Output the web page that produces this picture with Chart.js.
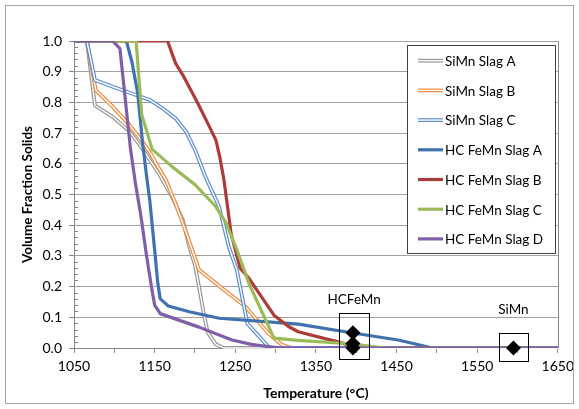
<!DOCTYPE html>
<html>
<head>
<meta charset="utf-8">
<script src="https://cdn.jsdelivr.net/npm/chart.js@4.4.0/dist/chart.umd.min.js"></script>
<style>
html, body { margin: 0; padding: 0; background: #fff; }
#contenedor { width: 579px; height: 409px; }
</style>
</head>
<body>
<div id="contenedor"><canvas id="graficaSolidos" width="579" height="409"></canvas></div>
<script>
// Datos (temperatura en °C, fraccion de solidos)
const tempSiMnA = [1050, 1066, 1076, 1098, 1119, 1133, 1156, 1172, 1185, 1193, 1200, 1205, 1211, 1216, 1226, 1236, 1650];
const fracSiMnA = [1, 1, 0.79, 0.753, 0.705, 0.656, 0.565, 0.49, 0.417, 0.33, 0.27, 0.2, 0.11, 0.05, 0.012, 0, 0];

const tempSiMnB = [1050, 1066, 1077, 1098, 1119, 1135, 1146, 1152, 1164, 1176, 1190, 1205, 1234, 1263, 1291, 1308, 1320, 1650];
const fracSiMnB = [1, 1, 0.84, 0.786, 0.726, 0.672, 0.63, 0.6, 0.547, 0.47, 0.37, 0.255, 0.194, 0.134, 0.048, 0.01, 0, 0];

const tempSiMnC = [1050, 1066, 1076, 1098, 1127, 1144, 1160, 1176, 1189, 1201, 1213, 1230, 1242, 1252, 1265, 1291, 1300, 1650];
const fracSiMnC = [1, 1, 0.873, 0.851, 0.824, 0.808, 0.78, 0.748, 0.705, 0.64, 0.558, 0.46, 0.33, 0.254, 0.08, 0.004, 0, 0];

const tempHCA = [1050, 1115, 1122, 1129, 1135, 1140, 1144, 1150, 1154, 1157, 1167, 1193, 1230, 1328, 1396, 1452, 1495, 1650];
const fracHCA = [1, 1, 0.93, 0.83, 0.67, 0.56, 0.48, 0.32, 0.21, 0.16, 0.137, 0.118, 0.097, 0.078, 0.049, 0.026, 0, 0];

const tempHCB = [1050, 1166, 1176, 1185, 1205, 1217, 1226, 1231, 1236, 1245, 1256, 1267, 1298, 1316, 1328, 1365, 1378, 1396, 1410, 1650];
const fracHCB = [1, 1, 0.927, 0.889, 0.79, 0.726, 0.677, 0.62, 0.547, 0.37, 0.26, 0.227, 0.107, 0.07, 0.053, 0.028, 0.02, 0.004, 0, 0];

const tempHCC = [1050, 1127, 1134, 1147, 1172, 1201, 1226, 1238, 1252, 1267, 1298, 1328, 1396, 1435, 1650];
const fracHCC = [1, 1, 0.76, 0.647, 0.59, 0.53, 0.46, 0.41, 0.32, 0.21, 0.032, 0.025, 0.013, 0, 0];

const tempHCD = [1050, 1098, 1107, 1120, 1126, 1133, 1140, 1146, 1150, 1157, 1205, 1246, 1270, 1295, 1310, 1650];
const fracHCD = [1, 1, 0.975, 0.65, 0.54, 0.43, 0.3, 0.2, 0.14, 0.112, 0.068, 0.026, 0.012, 0.003, 0, 0];

// Puntos medidos (rombos negros)
const tempMarcas = [1396, 1396, 1396, 1595];
const fracMarcas = [0.05, 0.015, 0, 0];

// Recuadros y etiquetas de las marcas
const nombresCajas = ["HCFeMn", "SiMn"];
const cajaTempMin = [1379, 1577];
const cajaTempMax = [1416, 1613];
const cajaFracMin = [-0.036, -0.042];
const cajaFracMax = [0.114, 0.049];
const etiquetaFrac = [0.156, 0.124];

const nombresSeries = ["SiMn Slag A", "SiMn Slag B", "SiMn Slag C", "HC FeMn Slag A", "HC FeMn Slag B", "HC FeMn Slag C", "HC FeMn Slag D"];

const FUENTE = "Lato, 'Open Sans', sans-serif";

function puntos(temps, fracs) {
    return temps.map((t, i) => ({ x: t, y: fracs[i] }));
}

function generarDataset(label, temps, fracs, color, hueco, orden) {
    return {
        label,
        data: puntos(temps, fracs),
        borderColor: color,
        backgroundColor: color,
        borderWidth: hueco ? 3.8 : 3.2,
        borderJoinStyle: "round",
        pointRadius: 0,
        tension: 0,
        hueco,
        order: orden
    };
}

// Linea doble (blanca por dentro) para las series SiMn
const lineaHueca = {
    id: "lineaHueca",
    afterDatasetDraw(chart, args) {
        const ds = chart.data.datasets[args.index];
        if (!ds.hueco) return;
        const ctx = chart.ctx;
        const area = chart.chartArea;
        ctx.save();
        ctx.beginPath();
        ctx.rect(area.left, area.top - 3, area.right - area.left, area.bottom - area.top + 6);
        ctx.clip();
        ctx.beginPath();
        args.meta.data.forEach((p, i) => i ? ctx.lineTo(p.x, p.y) : ctx.moveTo(p.x, p.y));
        ctx.strokeStyle = "#fff";
        ctx.lineWidth = 1.4;
        ctx.lineJoin = "round";
        ctx.stroke();
        ctx.restore();
    }
};

const extras = {
    id: "extras",
    afterDatasetsDraw(chart) {
        const ctx = chart.ctx;
        const x = chart.scales.x;
        const y = chart.scales.y;
        const area = chart.chartArea;
        ctx.save();

        // borde derecho del area
        ctx.strokeStyle = "#868686";
        ctx.lineWidth = 1;
        ctx.beginPath();
        ctx.moveTo(Math.round(area.right) + 0.5, area.top);
        ctx.lineTo(Math.round(area.right) + 0.5, area.bottom);
        ctx.stroke();

        // marcas menores del eje Y
        for (let v = 0.02; v < 1; v += 0.02) {
            if (Math.abs(v * 10 - Math.round(v * 10)) < 0.001) continue;
            const py = Math.round(y.getPixelForValue(v)) + 0.5;
            ctx.beginPath();
            ctx.moveTo(area.left, py);
            ctx.lineTo(area.left + 4, py);
            ctx.stroke();
        }

        // recuadros y etiquetas
        ctx.strokeStyle = "#000";
        ctx.fillStyle = "#000";
        ctx.font = "13.5px " + FUENTE;
        ctx.textAlign = "center";
        ctx.textBaseline = "middle";
        nombresCajas.forEach((nombre, i) => {
            const x0 = Math.round(x.getPixelForValue(cajaTempMin[i])) + 0.5;
            const x1 = Math.round(x.getPixelForValue(cajaTempMax[i])) + 0.5;
            const y0 = Math.round(y.getPixelForValue(cajaFracMax[i])) + 0.5;
            const y1 = Math.round(y.getPixelForValue(cajaFracMin[i])) + 0.5;
            ctx.strokeRect(x0, y0, x1 - x0, y1 - y0);
            const cx = x.getPixelForValue((cajaTempMin[i] + cajaTempMax[i]) / 2);
            ctx.fillText(nombre, cx, y.getPixelForValue(etiquetaFrac[i]));
        });
        ctx.restore();
    },
    afterDraw(chart) {
        const ctx = chart.ctx;
        ctx.save();
        // borde exterior
        ctx.strokeStyle = "#a6a6a6";
        ctx.lineWidth = 1;
        ctx.strokeRect(5.5, 5.5, 568, 398);

        // leyenda
        ctx.fillStyle = "#fff";
        ctx.fillRect(407.5, 45.5, 148, 208);
        ctx.strokeStyle = "#404040";
        ctx.strokeRect(407.5, 45.5, 148, 208);
        ctx.font = "13.5px " + FUENTE;
        ctx.textAlign = "left";
        ctx.textBaseline = "middle";
        nombresSeries.forEach((nombre, i) => {
            const ds = chart.data.datasets[i];
            const py = 60.7 + i * 29.7;
            ctx.beginPath();
            ctx.moveTo(418, py);
            ctx.lineTo(443, py);
            ctx.strokeStyle = ds.borderColor;
            ctx.lineWidth = ds.borderWidth;
            ctx.stroke();
            if (ds.hueco) {
                ctx.beginPath();
                ctx.moveTo(418, py);
                ctx.lineTo(443, py);
                ctx.strokeStyle = "#fff";
                ctx.lineWidth = 1.4;
                ctx.stroke();
            }
            ctx.fillStyle = "#000";
            ctx.fillText(nombre, 445, py + 1);
        });
        ctx.restore();
    }
};

function crearGrafico() {
    Chart.defaults.font.family = FUENTE;
    Chart.defaults.font.size = 14;
    Chart.defaults.color = "#000";

    const ctx = document.getElementById("graficaSolidos").getContext("2d");
    new Chart(ctx, {
        type: "line",
        data: {
            datasets: [
                generarDataset(nombresSeries[0], tempSiMnA, fracSiMnA, "#969696", true, 7),
                generarDataset(nombresSeries[1], tempSiMnB, fracSiMnB, "#ee8a3e", true, 6),
                generarDataset(nombresSeries[2], tempSiMnC, fracSiMnC, "#5a8ccc", true, 5),
                generarDataset(nombresSeries[3], tempHCA, fracHCA, "#3f72af", false, 4),
                generarDataset(nombresSeries[4], tempHCB, fracHCB, "#ad3b38", false, 3),
                generarDataset(nombresSeries[5], tempHCC, fracHCC, "#9bbb59", false, 2),
                generarDataset(nombresSeries[6], tempHCD, fracHCD, "#7f5fa8", false, 1),
                {
                    label: "Marcas",
                    data: puntos(tempMarcas, fracMarcas),
                    showLine: false,
                    pointStyle: "rectRot",
                    pointRadius: 7.5,
                    pointBackgroundColor: "#000",
                    pointBorderColor: "#000",
                    pointBorderWidth: 0,
                    clip: false,
                    order: 0
                }
            ]
        },
        options: {
            responsive: false,
            animation: false,
            devicePixelRatio: 1,
            layout: { padding: { left: 16, top: 41, right: 18, bottom: 0 } },
            plugins: { legend: { display: false }, tooltip: { enabled: false } },
            scales: {
                x: {
                    type: "linear",
                    min: 1050,
                    max: 1650,
                    ticks: {
                        stepSize: 50,
                        autoSkip: false,
                        maxRotation: 0,
                        padding: 5,
                        callback: v => ((v - 1050) % 100 === 0 ? String(v) : "")
                    },
                    grid: { drawOnChartArea: false, tickLength: 5, color: "#868686" },
                    border: { color: "#868686" },
                    title: { display: true, text: "Temperature (°C)", font: { weight: "bold", size: 14 }, padding: { top: 4, bottom: 7 } },
                    afterFit: s => { s.height = 61; }
                },
                y: {
                    min: 0,
                    max: 1,
                    ticks: { stepSize: 0.1, padding: 7, callback: v => v.toFixed(1) },
                    grid: { color: "#a0a0a0", tickColor: "#868686", tickLength: 5 },
                    border: { color: "#868686" },
                    title: { display: true, text: "Volume Fraction Solids", font: { weight: "bold", size: 13.5 }, padding: { top: 4, bottom: 4 } },
                    afterFit: s => { s.width = 58; }
                }
            }
        },
        plugins: [lineaHueca, extras]
    });
}

document.addEventListener("DOMContentLoaded", () => {
    crearGrafico();
});
</script>
</body>
</html>
